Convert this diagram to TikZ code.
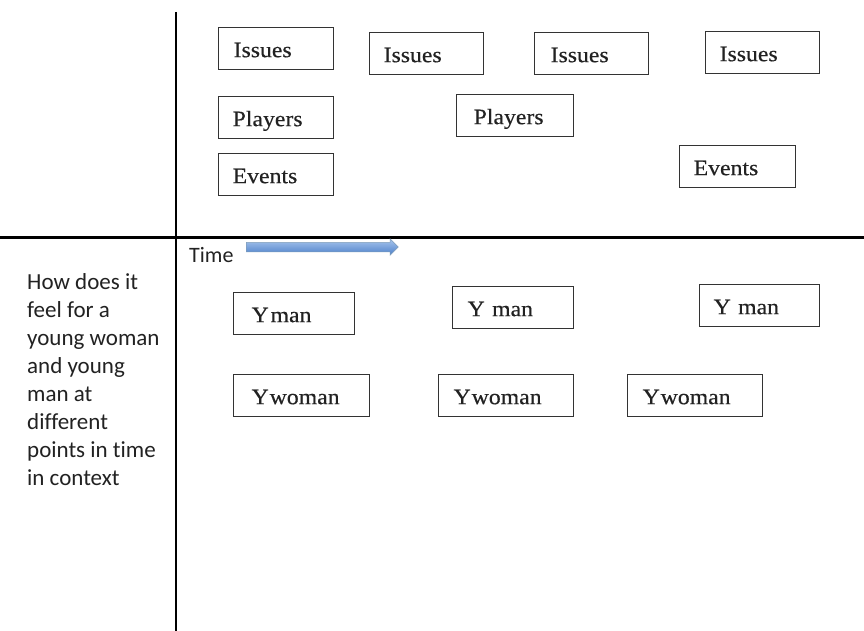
\documentclass[tikz,border=0pt]{standalone}
\usepackage{fontspec}
\usetikzlibrary{shapes.arrows}
\newfontfamily\boxfam[FakeStretch=1.08,FakeBold=0.4]{Liberation Serif}
\newfontfamily\sansfam[Ligatures=NoCommon]{Carlito}
\definecolor{boxline}{HTML}{333333}
\definecolor{txt}{HTML}{222222}
\definecolor{arrtop}{HTML}{A9C6EE}
\definecolor{arrbot}{HTML}{4B7FC9}
\definecolor{arredge}{HTML}{7F9DB9}
\tikzset{
  x=1pt, y=-1pt,
  box/.style 2 args={draw=boxline, line width=1.3pt, anchor=north west,
    inner ysep=0pt, inner xsep=#2, text width=#1-2*#2, align=left,
    minimum height=42pt, text height=17pt, text depth=0pt,
    font=\boxfam\fontsize{22}{24}\selectfont, text=txt},
  rule/.style={line width=#1, black},
  sidetext/.style={anchor=north west, inner sep=0pt, align=left,
    font=\sansfam\fontsize{23}{28}\selectfont, text=txt},
  timearrow/.style={single arrow, anchor=west, inner xsep=0pt, inner ysep=4.5pt,
    minimum width=16pt, single arrow head extend=3.5pt, minimum height=152pt,
    top color=arrtop, bottom color=arrbot, draw=arredge, line width=0.5pt}
}
\begin{document}
\begin{tikzpicture}
\useasboundingbox (0,0) rectangle (864,631);
\fill[white] (0,0) rectangle (864,631);
% axes
\coordinate (hl) at (0,237.5);
\coordinate (hr) at (864,237.5);
\coordinate (vt) at (176,12);
\coordinate (vb) at (176,631);
\draw[rule=2.5pt] (hl) -- (hr);
\draw[rule=1.5pt] (vt) -- (vb);
% top row
\node[box={115pt}{15pt}] (iss1) at (218,27) {Issues};
\node[box={114pt}{14pt}] (iss2) at (369,32) {Issues};
\node[box={114pt}{16pt}] (iss3) at (534,32) {Issues};
\node[box={114pt}{14pt}] (iss4) at (705,31) {Issues};
\node[box={115pt}{14pt}] (pl1) at (218,96) {Players};
\node[box={117pt}{17pt}] (pl2) at (456,94) {Players};
\node[box={115pt}{14pt}] (ev1) at (218,153) {Events};
\node[box={116pt}{14pt}] (ev2) at (679,145) {Events};
% time
\node[anchor=base west, inner sep=0pt, font=\sansfam\fontsize{22}{26}\selectfont, text=txt] (time) at (189,262) {Time};
\node[timearrow] (arr) at (246,247) {};
% bottom
\node[box={121pt}{18pt}] (ym1) at (233,292) {Y\hspace{0.08em}man};
\node[box={121pt}{15pt}] (ym2) at (452,286) {Y man};
\node[box={120pt}{14pt}] (ym3) at (699,284) {Y man};
\node[box={136pt}{18pt}] (yw1) at (233,374) {Y\hspace{0.04em}woman};
\node[box={135pt}{15pt}] (yw2) at (438,374) {Y\hspace{0.04em}woman};
\node[box={135pt}{15pt}] (yw3) at (627,374) {Y\hspace{0.04em}woman};
% side text
\node[sidetext] (side) at (27,273) {How does it\\feel for a\\young woman\\and young\\man at\\different\\points in time\\in context};
\end{tikzpicture}
\end{document}
